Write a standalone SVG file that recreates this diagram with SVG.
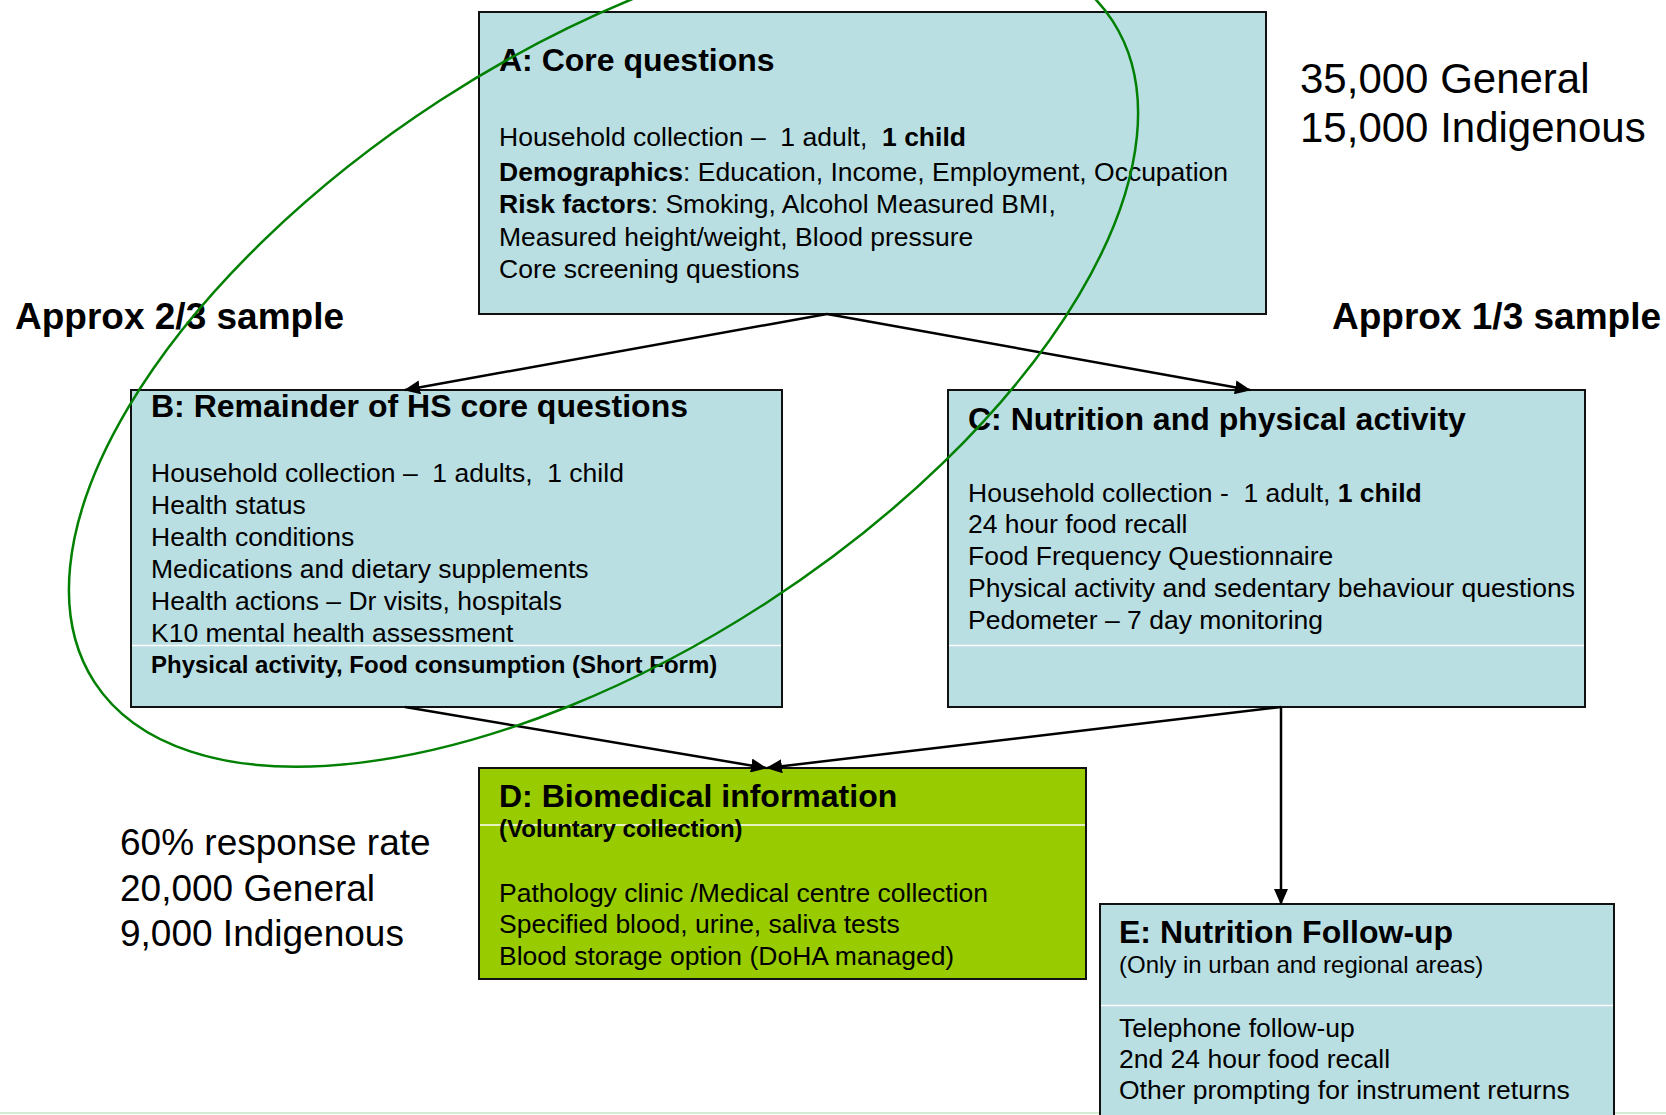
<svg xmlns="http://www.w3.org/2000/svg" width="1666" height="1115" viewBox="0 0 1666 1115">
<style>
text{font-family:"Liberation Sans",Arial,sans-serif;fill:#000;white-space:pre}
.box{fill:#badfe3;stroke:#111;stroke-width:2}
.green{fill:#99cc00;stroke:#111;stroke-width:2}
.sep{stroke:#fff;stroke-width:1.5}
.t{font-size:32px;font-weight:bold}
.b{font-size:26.5px}
.bs{font-size:24px;font-weight:bold}
.s{font-size:24px}
.bold{font-weight:bold}
.big{font-size:42px}
.mid{font-size:37px}
.lab{font-size:37px;font-weight:bold}
.conn{stroke:#000;stroke-width:2.5;fill:none;marker-end:url(#arr)}
</style>
<defs>
<marker id="arr" viewBox="0 0 16 14" refX="15" refY="7" markerWidth="16" markerHeight="14" markerUnits="userSpaceOnUse" orient="auto">
<path d="M0,0 L16,7 L0,14 Z" fill="#000"/>
</marker>
</defs>
<rect width="1666" height="1115" fill="#fff"/>
<line x1="0" y1="1113" x2="1666" y2="1113" stroke="#d3ead3" stroke-width="2"/>

<g id="nodeA">
<rect class="box" x="479" y="12" width="787" height="302"/>
<text class="t" x="499" y="71">A: Core questions</text>
<text class="b" x="499" y="146">Household collection –  1 adult,  <tspan class="bold">1 child</tspan></text>
<text class="b" x="499" y="181"><tspan class="bold">Demographics</tspan>: Education, Income, Employment, Occupation</text>
<text class="b" x="499" y="213"><tspan class="bold">Risk factors</tspan>: Smoking, Alcohol Measured BMI,</text>
<text class="b" x="499" y="246">Measured height/weight, Blood pressure</text>
<text class="b" x="499" y="278">Core screening questions</text>
</g>

<g id="nodeB">
<rect class="box" x="131" y="390" width="651" height="317"/>
<line class="sep" x1="132" y1="645.5" x2="781" y2="645.5"/>
<text class="t" x="151" y="417">B: Remainder of HS core questions</text>
<text class="b" x="151" y="482">Household collection –  1 adults,  1 child</text>
<text class="b" x="151" y="514">Health status</text>
<text class="b" x="151" y="546">Health conditions</text>
<text class="b" x="151" y="578">Medications and dietary supplements</text>
<text class="b" x="151" y="610">Health actions – Dr visits, hospitals</text>
<text class="b" x="151" y="642">K10 mental health assessment</text>
<text class="bs" x="151" y="673">Physical activity, Food consumption (Short Form)</text>
</g>

<g id="nodeC">
<rect class="box" x="948" y="390" width="637" height="317"/>
<line class="sep" x1="949" y1="645.5" x2="1584" y2="645.5"/>
<text class="t" x="968" y="430">C: Nutrition and physical activity</text>
<text class="b" x="968" y="502">Household collection -  1 adult, <tspan class="bold">1 child</tspan></text>
<text class="b" x="968" y="533">24 hour food recall</text>
<text class="b" x="968" y="565">Food Frequency Questionnaire</text>
<text class="b" x="968" y="597">Physical activity and sedentary behaviour questions</text>
<text class="b" x="968" y="629">Pedometer – 7 day monitoring</text>
</g>

<g id="nodeD">
<rect class="green" x="479" y="768" width="607" height="211"/>
<line class="sep" x1="480" y1="825" x2="1085" y2="825"/>
<text class="t" x="499" y="807">D: Biomedical information</text>
<text class="bs" x="499" y="837">(Voluntary collection)</text>
<text class="b" x="499" y="902">Pathology clinic /Medical centre collection</text>
<text class="b" x="499" y="933">Specified blood, urine, saliva tests</text>
<text class="b" x="499" y="965">Blood storage option (DoHA managed)</text>
</g>

<g id="nodeE">
<rect class="box" x="1100" y="904" width="514" height="230"/>
<line class="sep" x1="1101" y1="1005.5" x2="1613" y2="1005.5"/>
<text class="t" x="1119" y="943">E: Nutrition Follow-up</text>
<text class="s" x="1119" y="973">(Only in urban and regional areas)</text>
<text class="b" x="1119" y="1037">Telephone follow-up</text>
<text class="b" x="1119" y="1068">2nd 24 hour food recall</text>
<text class="b" x="1119" y="1099">Other prompting for instrument returns</text>
</g>

<g id="labels">
<text class="big" x="1300" y="93">35,000 General</text>
<text class="big" x="1300" y="142">15,000 Indigenous</text>
<text class="lab" x="15" y="329">Approx 2/3 sample</text>
<text class="lab" x="1332" y="329">Approx 1/3 sample</text>
<text class="mid" x="120" y="855">60% response rate</text>
<text class="mid" x="120" y="901">20,000 General</text>
<text class="mid" x="120" y="946">9,000 Indigenous</text>
</g>

<g id="connectors">
<line class="conn" x1="827" y1="314" x2="405" y2="390"/>
<line class="conn" x1="827" y1="314" x2="1250" y2="390"/>
<line class="conn" x1="405" y1="707" x2="766" y2="768"/>
<line class="conn" x1="1281" y1="707" x2="767" y2="768"/>
<line class="conn" x1="1281" y1="707" x2="1281" y2="904"/>
</g>

<g id="ellipse">
<ellipse cx="603.5" cy="351.5" rx="607" ry="299.5" transform="rotate(-33 603.5 351.5)" fill="none" stroke="#008000" stroke-width="2.5"/>
</g>
</svg>
